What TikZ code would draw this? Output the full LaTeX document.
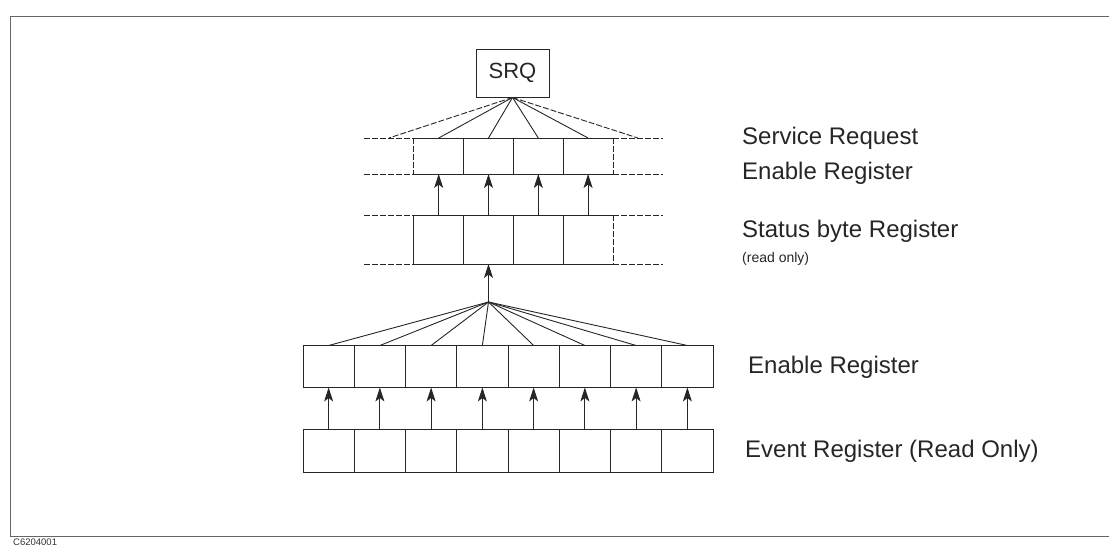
\documentclass[tikz,border=0pt]{standalone}
\usepackage{fontspec}
\setmainfont{Liberation Sans}
\usetikzlibrary{arrows.meta}
\begin{document}
\begin{tikzpicture}[x=1pt,y=-1pt,
  ln/.style={line width=0.9pt,draw=black!85},
  dsh/.style={ln,dash pattern=on 6pt off 2pt},
  cell/.style={draw=black!85,line width=0.9pt,minimum width=51.25pt,minimum height=42pt,inner sep=0pt,outer sep=0pt},
  ghost/.style={minimum width=49.8pt,inner sep=0pt,outer sep=0pt},
  upar/.style={ln,-{Stealth[length=14pt,width=9pt,inset=3.5pt]}},
  lbl/.style={anchor=base west,inner sep=0pt,text=black!85,font=\fontsize{24}{28}\selectfont},
]
\useasboundingbox (0,0) rectangle (1109,546);
% frame
\draw[black!60,line width=0.8pt] (1112,16) -- (10,16) -- (10,536) -- (1112,536);
\node[anchor=base west,inner sep=0pt,font=\fontsize{9.5}{11}\selectfont,text=black!80] (code) at (13,545.5) {C6204001};
% SRQ
\node[draw=black!85,line width=0.9pt,minimum width=73pt,minimum height=48pt,inner sep=0pt,text=black!85,font=\fontsize{22}{26}\selectfont] (srq) at (512.5,73) {SRQ};
% Service request enable register and status byte register (partial)
\foreach \i in {0,...,5}{
  \node[ghost,minimum height=36pt] (sre\i) at ({364+(\i+0.5)*49.8},156) {};
  \node[ghost,minimum height=49pt] (sb\i) at ({364+(\i+0.5)*49.8},239.5) {};
}
\foreach \r in {sre,sb}{
  \draw[dsh] (\r0.north west) -- (\r0.north east);
  \draw[ln] (\r1.north west) -- (\r4.north east);
  \draw[dsh] (\r5.north west) -- (\r5.north east);
  \draw[dsh] (\r0.south west) -- (\r0.south east);
  \draw[ln] (\r1.south west) -- (\r4.south east);
  \draw[dsh] (\r5.south west) -- (\r5.south east);
  \foreach \i in {2,3,4}{ \draw[ln] (\r\i.north west) -- (\r\i.south west); }
  \draw[dsh] (\r5.north west) -- (\r5.south west);
}
\draw[dsh] (sre1.north west) -- (sre1.south west);
\draw[ln] (sb1.north west) -- (sb1.south west);
% fan from SRQ
\draw[dsh] (srq.south) -- (sre0.north);
\foreach \i in {1,...,4}{ \draw[ln] (srq.south) -- (sre\i.north); }
\draw[dsh] (srq.south) -- (sre5.north);
\foreach \i in {1,...,4}{ \draw[upar] (sb\i.north) -- (sre\i.south); }
% lower registers
\coordinate (apex) at (488.5,302);
\draw[upar] (apex) -- (sb2.south);
\foreach \i in {1,...,8}{
  \node[cell] (en\i) at ({303+(\i-0.5)*51.25},366.5) {};
  \node[cell,minimum height=43pt] (ev\i) at ({303+(\i-0.5)*51.25},450.5) {};
}
\foreach \i in {1,...,8}{
  \draw[ln] (apex) -- (en\i.north);
  \draw[upar] (ev\i.north) -- (en\i.south);
}
% labels
\node[lbl] (t1) at (742,144) {Service Request};
\node[lbl] (t2) at (742,179) {Enable Register};
\node[lbl] (t3) at (742,237) {Status byte Register};
\node[lbl,font=\fontsize{14}{16}\selectfont] (t4) at (742,262) {(read only)};
\node[lbl] (t5) at (748,373) {Enable Register};
\node[lbl] (t6) at (745,457) {Event Register (Read Only)};
\end{tikzpicture}
\end{document}
